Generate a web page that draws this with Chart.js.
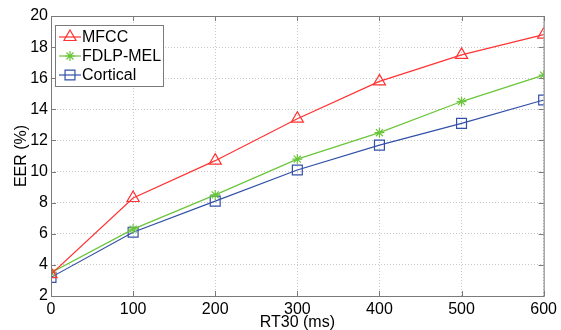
<!DOCTYPE html>
<html>
<head>
<meta charset="utf-8">
<script src="https://cdn.jsdelivr.net/npm/chart.js@4/dist/chart.umd.min.js"></script>
<style>
  html, body { margin: 0; padding: 0; background: #fff; }
  #wrap { width: 561px; height: 330px; }
</style>
</head>
<body>
<div id="wrap"><canvas id="myChart" width="561" height="330"></canvas></div>
<script>
// values
var rt30 = [0, 100, 200, 300, 400, 500, 600]
var mfcc = [3.4, 8.3, 10.7, 13.4, 15.8, 17.5, 18.8]
var fdlpMel = [3.5, 6.3, 8.5, 10.8, 12.5, 14.5, 16.2]
var cortical = [3.2, 6.1, 8.1, 10.1, 11.7, 13.1, 14.6]
var seriesNames = ["MFCC", "FDLP-MEL", "Cortical"]
var yTicks = [2, 4, 6, 8, 10, 12, 14, 16, 18, 20]
var xTicks = [0, 100, 200, 300, 400, 500, 600]

var lineColors = ["#ff3333", "#6ac53a", "#3350a8"]
var markers = ["triangle", "star", "rect"]
var markerSizes = [7, 5, 7]

function toPoints(ys) {
    var pts = []
    for (let i = 0; i < rt30.length; i++) {
        pts.push({ x: rt30[i], y: ys[i] })
    }
    return pts
}

var allSeries = [mfcc, fdlpMel, cortical]
var datasets = []
for (let i = 0; i < allSeries.length; i++) {
    datasets.push({
        label: seriesNames[i],
        data: toPoints(allSeries[i]),
        borderColor: lineColors[i],
        backgroundColor: "rgba(0,0,0,0)",
        borderWidth: 1.2,
        pointStyle: markers[i],
        pointRadius: markerSizes[i],
        pointBorderWidth: 1.2,
        pointBorderColor: lineColors[i],
        pointBackgroundColor: "rgba(0,0,0,0)",
        tension: 0
    })
}

var font = "Liberation Sans, Arial, sans-serif"

// frame around the plot, inner tick marks and the boxed legend
var matlabFrame = {
    id: "matlabFrame",
    afterDatasetsDraw(chart) {
        var ctx = chart.ctx
        var a = chart.chartArea
        var xs = chart.scales.x, ys = chart.scales.y
        ctx.save()
        ctx.strokeStyle = "#7a7a7a"
        ctx.lineWidth = 1
        ctx.setLineDash([])
        ctx.strokeRect(a.left + 0.5, a.top + 0.5, a.right - a.left, a.bottom - a.top)
        ctx.beginPath()
        for (let v of xTicks) {
            var px = Math.round(xs.getPixelForValue(v)) + 0.5
            ctx.moveTo(px, a.bottom); ctx.lineTo(px, a.bottom - 5)
            ctx.moveTo(px, a.top); ctx.lineTo(px, a.top + 5)
        }
        for (let v of yTicks) {
            var py = Math.round(ys.getPixelForValue(v)) + 0.5
            ctx.moveTo(a.left, py); ctx.lineTo(a.left + 5, py)
            ctx.moveTo(a.right, py); ctx.lineTo(a.right - 5, py)
        }
        ctx.stroke()

        // legend
        var lx = a.left + 4, ly = a.top + 9, lw = 108, lh = 61
        ctx.fillStyle = "#fff"
        ctx.fillRect(lx, ly, lw, lh)
        ctx.strokeStyle = "#7a7a7a"
        ctx.strokeRect(lx + 0.5, ly + 0.5, lw, lh)
        ctx.font = "16px " + font
        ctx.textBaseline = "middle"
        chart.data.datasets.forEach(function (ds, i) {
            var cy = ly + 12 + i * 19
            ctx.strokeStyle = ds.borderColor
            ctx.lineWidth = 1.2
            ctx.beginPath()
            ctx.moveTo(lx + 4, cy); ctx.lineTo(lx + 26, cy)
            ctx.stroke()
            ctx.fillStyle = "rgba(0,0,0,0)"
            Chart.helpers.drawPoint(ctx, {
                pointStyle: ds.pointStyle,
                radius: ds.pointRadius,
                borderWidth: 1.2,
                rotation: 0
            }, lx + 15, cy)
            ctx.fillStyle = "#000"
            ctx.fillText(ds.label, lx + 27, cy + 1)
        })
        ctx.restore()
    }
}

new Chart("myChart", {
    type: "line",
    data: { datasets: datasets },
    options: {
        responsive: false,
        animation: false,
        layout: { padding: { left: 0, right: 12, top: 16, bottom: 0 } },
        plugins: {
            legend: { display: false },
            tooltip: { enabled: false }
        },
        scales: {
            x: {
                type: "linear",
                min: 0, max: 600,
                afterBuildTicks: function (s) { s.ticks = xTicks.map(function (v) { return { value: v } }) },
                afterFit: function (s) { s.height = 34 },
                ticks: { color: "#000", font: { family: font, size: 16 }, padding: 4, maxRotation: 0 },
                grid: { color: "#c8c8c8", lineWidth: 1, drawTicks: false },
                border: { display: false, dash: [1, 2] },
                title: { display: true, text: "RT30 (ms)", color: "#000", font: { family: font, size: 16, lineHeight: 1 }, padding: { top: 0, bottom: -1 } }
            },
            y: {
                min: 2, max: 20,
                afterBuildTicks: function (s) { s.ticks = yTicks.map(function (v) { return { value: v } }) },
                afterFit: function (s) { s.width = 51 },
                ticks: { color: "#000", font: { family: font, size: 16 }, padding: 3 },
                grid: { color: "#c8c8c8", lineWidth: 1, drawTicks: false },
                border: { display: false, dash: [1, 2] },
                title: { display: true, text: "EER (%)", color: "#000", font: { family: font, size: 16, lineHeight: 1 }, padding: { top: 14, bottom: 0 } }
            }
        }
    },
    plugins: [matlabFrame]
})
</script>
</body>
</html>
